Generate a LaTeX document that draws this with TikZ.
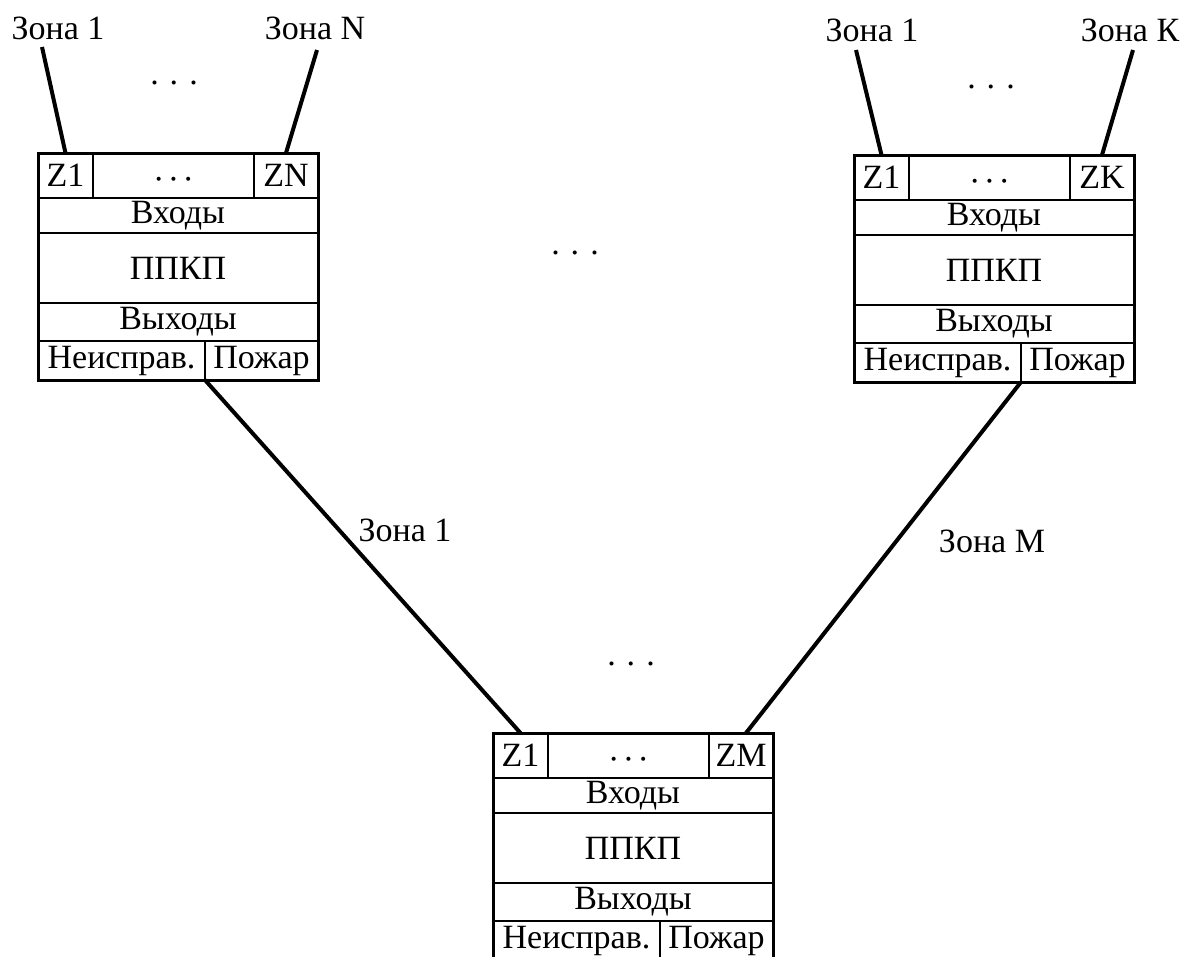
\documentclass[tikz,border=0pt]{standalone}
\usepackage{fontspec}
\setmainfont{Liberation Serif}
\usetikzlibrary{positioning}

\begin{document}
\begin{tikzpicture}[x=1pt, y=-1pt, font=\fontsize{34}{40}\selectfont,
  cell/.style={draw, line width=1.4pt, inner sep=0pt, outer sep=0pt, anchor=north west},
  frame/.style={draw, line width=3pt},
  wire/.style={line width=4pt}]
\useasboundingbox (0,0) rectangle (1182,956);
\foreach \b/\bx/\by/\zn in {l/38/153/ZN, r/854/155/ZK, m/493/733/ZM} {
  \node[cell, minimum width=55, minimum height=45] (\b-z1) at (\bx,\by) {Z1};
  \node[cell, minimum width=161, minimum height=45] (\b-zd) at (\bx+55,\by) {\strut\raisebox{-7pt}{·\hskip3.5pt·\hskip3.5pt·}};
  \node[cell, minimum width=64, minimum height=45] (\b-zn) at (\bx+216,\by) {\zn};
  \node[cell, minimum width=280, minimum height=35] (\b-in) at (\bx,\by+45) {Входы};
  \node[cell, minimum width=280, minimum height=70] (\b-core) at (\bx,\by+80) {ППКП};
  \node[cell, minimum width=280, minimum height=38] (\b-out) at (\bx,\by+150) {Выходы};
  \node[cell, minimum width=167, minimum height=39] (\b-fault) at (\bx,\by+188) {Неисправ.};
  \node[cell, minimum width=113, minimum height=39] (\b-fire) at (\bx+167,\by+188) {Пожар};
  \draw[frame] (\b-z1.north west) rectangle (\b-fire.south east);
}
\node (l-lab1) at (58,28) {Зона 1};
\node (l-labn) at (315,28) {Зона N};
\node (r-lab1) at (872,30) {Зона 1};
\node (r-labk) at (1130,30) {Зона К};
\coordinate (l-t1) at (42,47);
\coordinate (l-tn) at (317,50);
\coordinate (r-t1) at (856,50);
\coordinate (r-tk) at (1133,50);
\draw[wire] (l-t1) -- (l-z1.north);
\draw[wire] (l-tn) -- (l-zn.north);
\draw[wire] (r-t1) -- (r-z1.north);
\draw[wire] (r-tk) -- (r-zn.north);
\draw[wire] (l-fault.south east) -- (m-z1.north);
\draw[wire] (r-fault.south east) -- ([xshift=5]m-zn.north);
\node (lab-z1) at (405,530) {Зона 1};
\node (lab-zm) at (992,541) {Зона М};
\node (dots-l) at (174,83) {.\hskip11pt.\hskip11pt.};
\node (dots-r) at (991,87) {.\hskip11pt.\hskip11pt.};
\node (dots-c) at (575,253) {.\hskip11pt.\hskip11pt.};
\node (dots-m) at (631,664) {.\hskip11pt.\hskip11pt.};
\end{tikzpicture}
\end{document}
